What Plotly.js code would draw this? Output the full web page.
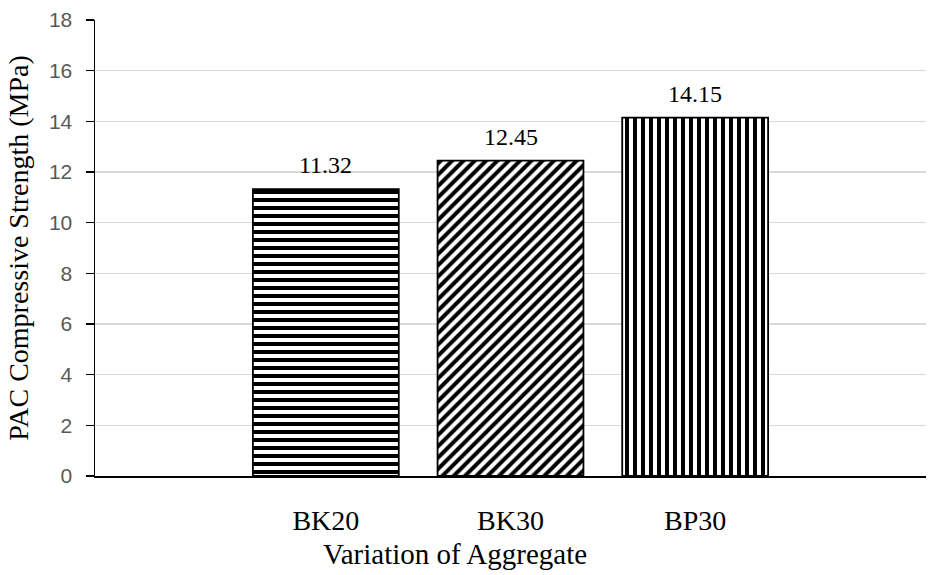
<!DOCTYPE html>
<html>
<head>
<meta charset="utf-8">
<script src="https://cdn.plot.ly/plotly-3.0.1.min.js"></script>
<style>html,body{margin:0;padding:0;background:#fff;}#chart{width:930px;height:575px;}</style>
</head>
<body>
<div id="chart"></div>
<script>
var categories = ["BK20", "BK30", "BP30"];
var strength = [11.32, 12.45, 14.15];
var patterns = ["-", "/", "|"];
var yTicks = [0, 2, 4, 6, 8, 10, 12, 14, 16, 18];

var serif = "Liberation Serif, Times New Roman, serif";

var trace = {
  type: "bar",
  x: [0, 1, 2],
  y: strength,
  width: 0.79,
  marker: {
    color: "white",
    line: {color: "black", width: 1.8},
    pattern: {shape: patterns, fgcolor: "black", bgcolor: "white", size: 8, solidity: 0.5}
  },
  hoverinfo: "skip"
};

var annotations = strength.map(function (v, i) {
  return {
    x: i, y: v, xref: "x", yref: "y",
    text: v.toFixed(2), showarrow: false,
    yanchor: "bottom", yshift: 9,
    font: {family: serif, size: 24, color: "#000"}
  };
});
annotations.push({
  x: (455 - 95) / 831, xref: "paper", y: 0, yref: "paper",
  text: "Variation of Aggregate", showarrow: false,
  xanchor: "center", yanchor: "bottom", yshift: -96,
  font: {family: serif, size: 29, color: "#000"}
});

var layout = {
  width: 930, height: 575,
  margin: {l: 95, r: 4, t: 20, b: 99},
  paper_bgcolor: "white", plot_bgcolor: "white",
  showlegend: false,
  bargap: 0,
  xaxis: {
    range: [-1.25, 3.25],
    tickmode: "array", tickvals: [0, 1, 2], ticktext: categories,
    showgrid: false, zeroline: false,
    showline: true, linecolor: "black", linewidth: 2,
    ticks: "", ticklabelstandoff: 18,
    tickfont: {family: serif, size: 28, color: "#000"}
  },
  yaxis: {
    range: [0, 18],
    tickmode: "array", tickvals: yTicks,
    showgrid: true, gridcolor: "#d9d9d9", gridwidth: 1.5,
    zeroline: false,
    showline: true, linecolor: "black", linewidth: 1.5,
    ticks: "outside", ticklen: 8, tickcolor: "black", tickwidth: 1.5,
    ticklabelstandoff: 9,
    tickfont: {family: "Liberation Sans, Arial, sans-serif", size: 21, color: "#595959"},
    title: {text: "PAC Compressive Strength (MPa)", standoff: 12,
      font: {family: serif, size: 28, color: "#000"}}
  },
  annotations: annotations
};

Plotly.newPlot("chart", [trace], layout, {displayModeBar: false, staticPlot: true});
</script>
</body>
</html>
